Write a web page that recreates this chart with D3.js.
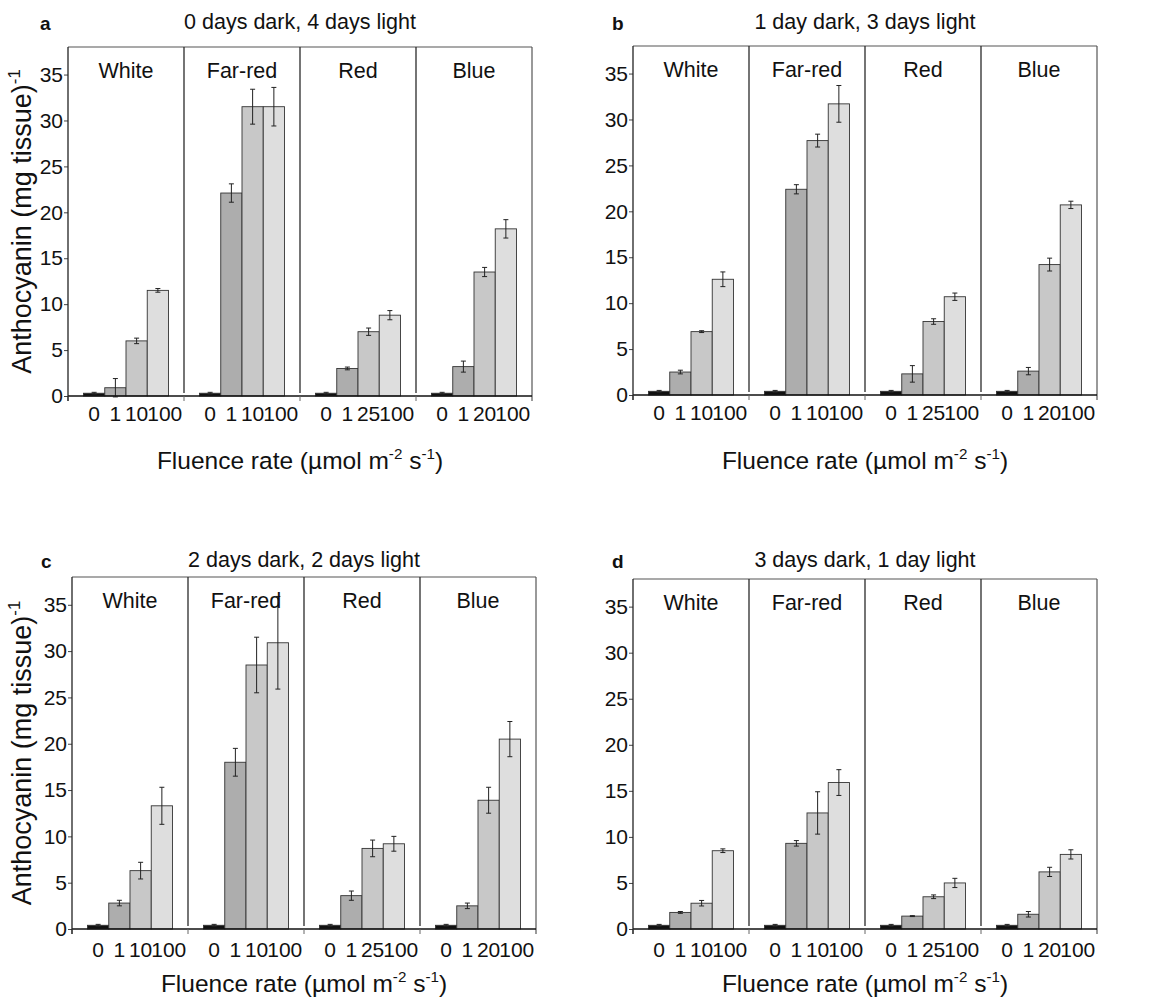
<!DOCTYPE html>
<html>
<head>
<meta charset="utf-8">
<script src="https://cdn.jsdelivr.net/npm/d3@7"></script>
<style>
  html, body { margin: 0; padding: 0; background: #ffffff; }
  svg { display: block; font-family: "Liberation Sans", Arial, Helvetica, sans-serif; }
</style>
</head>
<body>
<div id="chart"></div>
<script>
// ---------------- data ----------------
const panelLetters = ["a", "b", "c", "d"];
const panelTitles = [
  "0 days dark, 4 days light",
  "1 day dark, 3 days light",
  "2 days dark, 2 days light",
  "3 days dark, 1 day light"
];
const groups = ["White", "Far-red", "Red", "Blue"];
const fluenceLabels = [
  ["0", "1", "10", "100"],
  ["0", "1", "10", "100"],
  ["0", "1", "25", "100"],
  ["0", "1", "20", "100"]
];
const yTicks = [0, 5, 10, 15, 20, 25, 30, 35];

// values per panel: [group][fluence level]
const valuesA = [[0.3, 0.9, 6.0, 11.5], [0.3, 22.1, 31.5, 31.5], [0.3, 3.0, 7.0, 8.8], [0.3, 3.2, 13.5, 18.2]];
const errorsA = [[0.1, 1.0, 0.3, 0.2], [0.1, 1.0, 1.9, 2.1], [0.1, 0.15, 0.4, 0.5], [0.1, 0.6, 0.5, 1.0]];
const valuesB = [[0.4, 2.5, 6.9, 12.6], [0.4, 22.4, 27.7, 31.7], [0.4, 2.3, 8.0, 10.7], [0.4, 2.6, 14.2, 20.7]];
const errorsB = [[0.1, 0.2, 0.1, 0.8], [0.1, 0.5, 0.7, 2.0], [0.1, 0.9, 0.3, 0.4], [0.1, 0.4, 0.7, 0.4]];
const valuesC = [[0.4, 2.8, 6.3, 13.3], [0.4, 18.0, 28.5, 30.9], [0.4, 3.6, 8.7, 9.2], [0.4, 2.5, 13.9, 20.5]];
const errorsC = [[0.1, 0.3, 0.9, 2.0], [0.1, 1.5, 3.0, 5.0], [0.1, 0.5, 0.9, 0.8], [0.1, 0.3, 1.4, 1.9]];
const valuesD = [[0.4, 1.8, 2.8, 8.5], [0.4, 9.3, 12.6, 15.9], [0.4, 1.4, 3.5, 5.0], [0.4, 1.6, 6.2, 8.1]];
const errorsD = [[0.1, 0.1, 0.3, 0.2], [0.1, 0.3, 2.3, 1.4], [0.1, 0.05, 0.2, 0.5], [0.1, 0.3, 0.5, 0.5]];

const allValues = [valuesA, valuesB, valuesC, valuesD];
const allErrors = [errorsA, errorsB, errorsC, errorsD];

// ---------------- layout ----------------
const W = 1161, H = 1004;
const layouts = [
  { left: 68,  right: 532,  top: 47,  zero: 396, titleY: 29,  letterX: 40,  tickY: 421, xTitleY: 469, yLabel: true },
  { left: 633, right: 1097, top: 46,  zero: 395, titleY: 29,  letterX: 612, tickY: 420, xTitleY: 469, yLabel: false },
  { left: 72,  right: 536,  top: 577, zero: 929, titleY: 567, letterX: 41,  tickY: 957, xTitleY: 992, yLabel: true },
  { left: 633, right: 1097, top: 579, zero: 929, titleY: 567, letterX: 612, tickY: 957, xTitleY: 992, yLabel: false }
];
const barFills = ["#111111", "#adadad", "#c8c8c8", "#dedede"];

const svg = d3.select("#chart").append("svg")
  .attr("width", W).attr("height", H)
  .attr("viewBox", `0 0 ${W} ${H}`);

svg.append("rect").attr("width", W).attr("height", H).attr("fill", "#ffffff");

function addSup(textSel, base, sup, rest, fs) {
  const s = fs * 0.62, up = fs * 0.42;
  textSel.append("tspan").text(base);
  textSel.append("tspan").attr("dy", -up).attr("font-size", s).text(sup);
  if (rest !== null) textSel.append("tspan").attr("dy", up).text(rest);
}

layouts.forEach((L, p) => {
  const g = svg.append("g");
  const vals = allValues[p], errs = allErrors[p];

  const x0 = d3.scaleBand().domain(groups).range([L.left, L.right]).paddingInner(0).paddingOuter(0);
  const x1 = d3.scaleBand().domain(d3.range(4)).range([0, x0.bandwidth()]).paddingInner(0).paddingOuter(0.73);
  const y = d3.scaleLinear().domain([0, 38]).range([L.zero, L.top]);

  // frame: top and right border
  g.append("line").attr("x1", L.left).attr("x2", L.right).attr("y1", L.top).attr("y2", L.top)
    .attr("stroke", "#555").attr("stroke-width", 1.2);
  g.append("line").attr("x1", L.right).attr("x2", L.right).attr("y1", L.top).attr("y2", L.zero + 5)
    .attr("stroke", "#555").attr("stroke-width", 1.2);

  // group dividers
  groups.slice(1).forEach(grp => {
    g.append("line").attr("x1", x0(grp)).attr("x2", x0(grp))
      .attr("y1", L.top).attr("y2", L.zero - 3)
      .attr("stroke", "#2a2a2a").attr("stroke-width", 1.3);
  });

  // bars
  groups.forEach((grp, gi) => {
    const gg = g.append("g").attr("transform", `translate(${x0(grp)},0)`);
    gg.selectAll("rect").data(vals[gi]).join("rect")
      .attr("x", (d, j) => x1(j))
      .attr("y", d => y(d))
      .attr("width", x1.bandwidth())
      .attr("height", d => y(0) - y(d))
      .attr("fill", (d, j) => barFills[j])
      .attr("stroke", "#333")
      .attr("stroke-width", 0.9);
    // error bars
    vals[gi].forEach((v, j) => {
      const e = errs[gi][j];
      const cx = x1(j) + x1.bandwidth() / 2;
      gg.append("line").attr("x1", cx).attr("x2", cx).attr("y1", y(v - e)).attr("y2", y(v + e))
        .attr("stroke", "#222").attr("stroke-width", 1);
      [v - e, v + e].forEach(t => {
        gg.append("line").attr("x1", cx - 2.5).attr("x2", cx + 2.5).attr("y1", y(t)).attr("y2", y(t))
          .attr("stroke", "#222").attr("stroke-width", 1);
      });
    });
    // fluence tick labels
    fluenceLabels[gi].forEach((lab, j) => {
      const last = j === 3;
      gg.append("text")
        .attr("x", last ? x1(j) : x1(j) + x1.bandwidth() / 2)
        .attr("y", L.tickY)
        .attr("text-anchor", last ? "start" : "middle")
        .attr("font-size", 21)
        .attr("fill", "#111")
        .text(lab);
    });
    // group label
    g.append("text")
      .attr("x", x0(grp) + x0.bandwidth() / 2)
      .attr("y", L.top + 31)
      .attr("text-anchor", "middle")
      .attr("font-size", 21.5)
      .attr("fill", "#111")
      .text(grp);
  });

  // x axis line + boundary ticks
  g.append("line").attr("x1", L.left).attr("x2", L.right).attr("y1", L.zero).attr("y2", L.zero)
    .attr("stroke", "#111").attr("stroke-width", 1.4);
  groups.forEach(grp => {
    g.append("line").attr("x1", x0(grp)).attr("x2", x0(grp)).attr("y1", L.zero).attr("y2", L.zero + 5)
      .attr("stroke", "#666").attr("stroke-width", 1);
  });

  // y axis
  const yAxis = d3.axisLeft(y).tickValues(yTicks).tickSize(4).tickSizeOuter(0).tickPadding(1)
    .tickFormat(d3.format("d"));
  const ya = g.append("g").attr("transform", `translate(${L.left},0)`).call(yAxis);
  ya.select(".domain").remove();
  ya.selectAll(".tick line").attr("stroke", "#444");
  ya.selectAll(".tick text").attr("font-size", 21).attr("fill", "#111")
    .attr("font-family", '"Liberation Sans", Arial, sans-serif');
  g.append("line").attr("x1", L.left).attr("x2", L.left).attr("y1", L.top).attr("y2", L.zero + 5)
    .attr("stroke", "#222").attr("stroke-width", 1.3);

  // panel title
  g.append("text")
    .attr("x", (L.left + L.right) / 2).attr("y", L.titleY)
    .attr("text-anchor", "middle").attr("font-size", 21.5).attr("fill", "#111")
    .text(panelTitles[p]);
  // panel letter
  g.append("text")
    .attr("x", L.letterX).attr("y", L.titleY + 1)
    .attr("font-size", 19).attr("font-weight", "bold").attr("fill", "#111")
    .text(panelLetters[p]);

  // x axis title
  const xfs = 24.5;
  const xt = g.append("text")
    .attr("x", (L.left + L.right) / 2).attr("y", L.xTitleY)
    .attr("text-anchor", "middle").attr("font-size", xfs).attr("fill", "#111");
  addSup(xt, "Fluence rate (\u00b5mol m", "-2", " s", xfs);
  xt.append("tspan").attr("dy", -xfs * 0.42).attr("font-size", xfs * 0.62).text("-1");
  xt.append("tspan").attr("dy", xfs * 0.42).text(")");

  // y axis title
  if (L.yLabel) {
    const yfs = 27;
    const yt = g.append("text")
      .attr("transform", `translate(31,${(L.top + L.zero) / 2}) rotate(-90)`)
      .attr("text-anchor", "middle").attr("font-size", yfs).attr("fill", "#111");
    addSup(yt, "Anthocyanin (mg tissue)", "-1", null, yfs);
  }
});
</script>
</body>
</html>
